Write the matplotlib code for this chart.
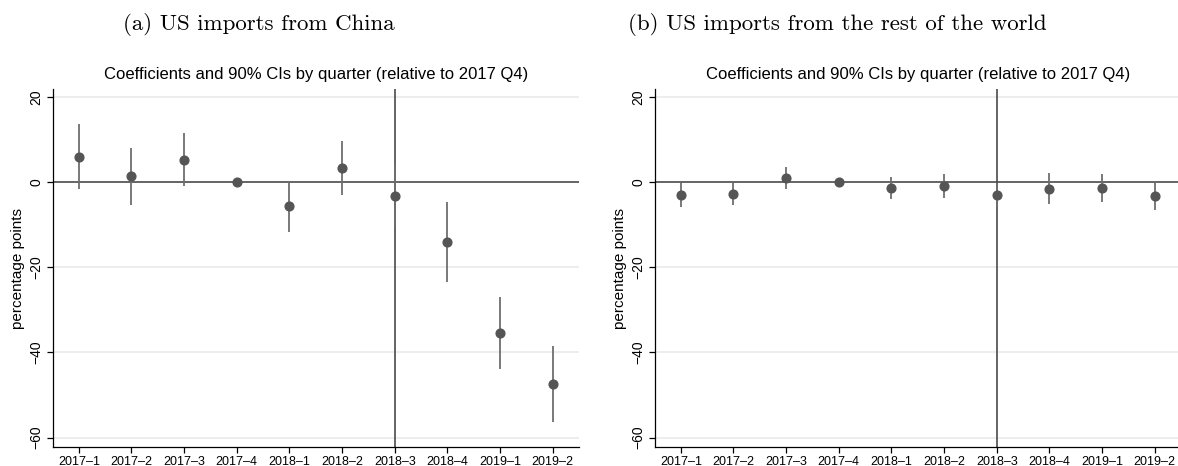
import numpy as np
import matplotlib
matplotlib.use("Agg")
import matplotlib.pyplot as plt

# event-study coefficients, 90% CI bounds (percentage points)
quarters = ["2017\u20131", "2017\u20132", "2017\u20133", "2017\u20134", "2018\u20131",
            "2018\u20132", "2018\u20133", "2018\u20134", "2019\u20131", "2019\u20132"]

china_coef = [6.0, 1.5, 5.3, 0.0, -5.6, 3.4, -3.3, -14.1, -35.3, -47.4]
china_lo = [-1.6, -5.2, -0.9, 0.0, -11.6, -3.0, -10.6, -23.4, -43.8, -56.3]
china_hi = [13.7, 8.1, 11.6, 0.0, 0.3, 9.8, 4.3, -4.7, -27.0, -38.4]

row_coef = [-3.0, -2.7, 1.1, 0.0, -1.3, -0.9, -3.0, -1.5, -1.3, -3.2]
row_lo = [-5.7, -5.2, -1.5, 0.0, -3.9, -3.7, -5.8, -5.0, -4.5, -6.6]
row_hi = [-0.1, -0.1, 3.6, 0.0, 1.3, 2.0, -0.2, 2.1, 1.9, 0.3]

yticks = [20, 0, -20, -40, -60]
event_q = 7  # 2018-3

plt.rcParams["font.family"] = ["Liberation Sans", "DejaVu Sans"]

DOT = "#555555"
CI = "#6e6e6e"
REF = "#4a4a4a"
GRID = "#e8e8e8"


def panel(ax, coef, lo, hi):
    x = np.arange(1, len(quarters) + 1)
    for y in yticks:
        if y != 0:
            ax.axhline(y, color=GRID, lw=1.1, zorder=0)
    ax.axhline(0, color=REF, lw=1.2, zorder=1)
    ax.axvline(event_q, color=REF, lw=1.2, zorder=1)
    ax.vlines(x, lo, hi, color=CI, lw=1.3, zorder=2)
    ax.plot(x, coef, "o", color=DOT, ms=6.3, zorder=3)
    ax.set_xlim(0.5, 10.5)
    ax.set_ylim(-62.3, 21.9)
    ax.set_xticks(x)
    ax.set_xticklabels(quarters, fontsize=9)
    ax.set_yticks(yticks)
    ax.set_yticklabels([f"{v}".replace("-", "\u2212") for v in yticks],
                       rotation=90, va="center", fontsize=10)
    ax.tick_params(direction="out", length=4.5, width=0.9, color="black", pad=2)
    for s in ["top", "right"]:
        ax.spines[s].set_visible(False)
    for s in ["left", "bottom"]:
        ax.spines[s].set_linewidth(0.9)
    ax.set_ylabel("percentage points", fontsize=11, labelpad=3)
    ax.text(0.5, 1.04, "Coefficients and 90% CIs by quarter (relative to 2017 Q4)",
            transform=ax.transAxes, ha="center", va="center", fontsize=12)


fig = plt.figure(figsize=(11.78, 4.66), dpi=100)
W, H = 1178, 466
ax1 = fig.add_axes([52.5 / W, (H - 447.3) / H, 526.5 / W, 358 / H])
ax2 = fig.add_axes([654.5 / W, (H - 447.3) / H, 526.5 / W, 358 / H])
panel(ax1, china_coef, china_lo, china_hi)
panel(ax2, row_coef, row_lo, row_hi)

fig.text(259 / W, (H - 25) / H, "(a) US imports from China",
         family="cmr10", fontsize=16.5, ha="center", va="center")
fig.text(837 / W, (H - 25) / H, "(b) US imports from the rest of the world",
         family="cmr10", fontsize=16.5, ha="center", va="center")

fig.savefig("out.png", dpi=100)
